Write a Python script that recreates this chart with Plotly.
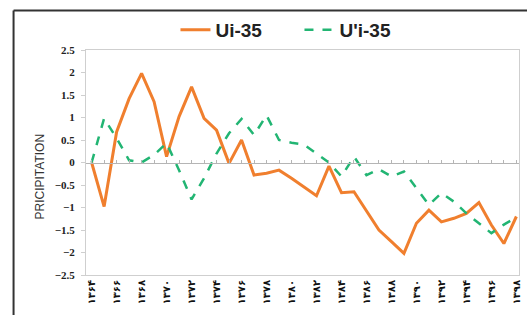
import plotly.graph_objects as go

years = list(range(1364, 1399))
fa_digits = str.maketrans("0123456789", "۰۱۲۳۴۵۶۷۸۹")
year_labels = [str(y).translate(fa_digits) for y in years]

ui_35 = [0.0, -0.98, 0.68, 1.42, 1.98, 1.35, 0.13, 1.02, 1.68, 0.98, 0.72, -0.02,
         0.5, -0.28, -0.24, -0.17, -0.35, -0.55, -0.74, -0.08, -0.67, -0.65,
         -1.09, -1.5, -1.76, -2.02, -1.35, -1.06, -1.32, -1.24, -1.13, -0.89,
         -1.39, -1.8, -1.2]
upi_35 = [0.0, 0.98, 0.54, 0.05, 0.0, 0.17, 0.43, -0.17, -0.82, -0.35, 0.2, 0.65,
          0.97, 0.61, 1.05, 0.5, 0.44, 0.4, 0.2, 0.0, -0.31, 0.13, -0.28,
          -0.15, -0.31, -0.2, -0.57, -0.94, -0.68, -0.87, -1.13, -1.35,
          -1.57, -1.38, -1.22]

idx = list(range(len(years)))

fig = go.Figure()
fig.add_trace(go.Scatter(x=idx, y=ui_35, mode="lines", name="Ui-35",
                         line=dict(color="#F07F2E", width=3)))
fig.add_trace(go.Scatter(x=idx, y=upi_35, mode="lines", name="U'i-35",
                         line=dict(color="#22B573", width=2.5, dash="dash")))
# invisible trace to drive the zero-line axis with tick marks
fig.add_trace(go.Scatter(x=idx, y=[0] * len(idx), xaxis="x2", mode="lines",
                         line=dict(width=0), showlegend=False, hoverinfo="skip"))

xr = [-0.45, len(idx) - 0.79]
fig.update_layout(
    width=527, height=315,
    margin=dict(l=86, r=5, t=50, b=40),
    paper_bgcolor="white", plot_bgcolor="white",
    showlegend=True,
    legend=dict(orientation="h", x=0.493, y=1.089, xanchor="center", yanchor="middle",
                font=dict(family="Liberation Sans", size=19, color="#222", weight="bold"),
                itemwidth=30, entrywidth=79, bgcolor="rgba(0,0,0,0)"),
    xaxis=dict(range=xr, tickmode="array", autorange=False,
               tickvals=idx[::2], ticktext=year_labels[::2], tickangle=-90,
               tickfont=dict(family="DejaVu Sans", size=10, color="#111", weight="bold"),
               showgrid=False, zeroline=False, showline=True, linecolor="#cfcfcf",
               linewidth=1, mirror=True, ticks=""),
    xaxis2=dict(overlaying="x", anchor="free", position=0.5, range=xr, autorange=False,
                showticklabels=False, showgrid=False, zeroline=False,
                showline=True, linecolor="#b5b5b5", linewidth=1,
                tickmode="linear", tick0=0, dtick=1, ticks="inside",
                ticklen=3, tickcolor="#b5b5b5"),
    yaxis=dict(range=[-2.5, 2.5], dtick=0.5, tickmode="linear", tick0=-2.5,
               tickfont=dict(family="Liberation Serif", size=11, color="#222", weight="bold"),
               showgrid=False, zeroline=False, showline=True, linecolor="#cfcfcf",
               mirror=True, ticks="outside", ticklen=4, tickcolor="#cfcfcf",
               ticklabelstandoff=4),
    annotations=[dict(text="PRICIPITATION", xref="paper", yref="paper",
                      x=-0.128, y=0.436, textangle=-90, showarrow=False,
                      font=dict(family="Liberation Sans", size=12, color="#333"))],
    shapes=[
        dict(type="line", xref="paper", yref="paper", x0=-0.1673, x1=-0.1673,
             y0=-0.25, y1=1.1756, line=dict(color="#333", width=2)),
        dict(type="line", xref="paper", yref="paper", x0=-0.1673, x1=1.05,
             y0=1.1756, y1=1.1756, line=dict(color="#333", width=2)),
    ],
)

fig.write_html("out.html", config={"displayModeBar": False},
               post_script="document.body.style.margin='0';")
